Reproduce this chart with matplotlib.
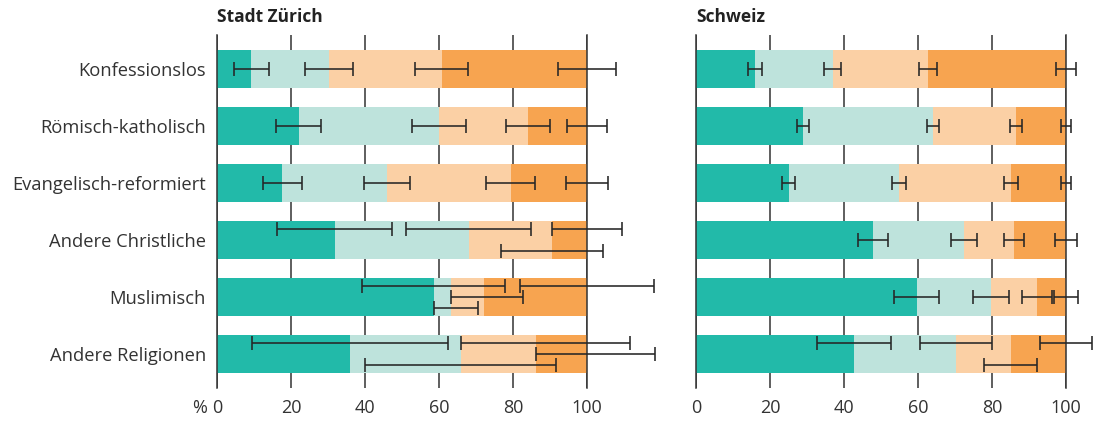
import numpy as np
import matplotlib
matplotlib.use("Agg")
import matplotlib.pyplot as plt
from matplotlib.transforms import blended_transform_factory

plt.rcParams['font.family'] = ['Open Sans', 'DejaVu Sans']

categories = ['Konfessionslos', 'Römisch-katholisch', 'Evangelisch-reformiert',
              'Andere Christliche', 'Muslimisch', 'Andere Religionen']

# shares (%) of the four answer groups, one row per category
zh_shares = [
    [9.3, 20.9, 30.5, 39.3],
    [22.1, 37.9, 24.0, 16.0],
    [17.7, 28.3, 33.4, 20.6],
    [31.8, 36.2, 22.5, 9.5],
    [58.6, 4.7, 9.0, 27.7],
    [36.0, 29.9, 20.2, 13.9],
]
ch_shares = [
    [15.9, 21.0, 25.7, 37.4],
    [28.8, 35.2, 22.4, 13.6],
    [25.0, 29.8, 30.2, 15.0],
    [47.7, 24.6, 13.6, 14.1],
    [59.6, 20.0, 12.5, 7.9],
    [42.6, 27.6, 14.8, 15.0],
]

# confidence interval half-widths (percentage points)
zh_err = [
    [4.75, 6.5, 7.25, 7.85],
    [6.1, 7.2, 6.0, 5.35],
    [5.35, 6.25, 6.65, 5.65],
    [15.45, 16.95, 13.75, 9.5],
    [19.3, 7.2, 10.3, 18.0],
    [26.45, 25.8, 25.5, 18.5],
]
ch_err = [
    [2.0, 2.35, 2.45, 2.7],
    [1.65, 1.75, 1.55, 1.3],
    [1.8, 2.0, 1.9, 1.4],
    [4.1, 3.55, 2.75, 2.95],
    [6.05, 4.85, 4.0, 3.25],
    [9.95, 9.75, 7.1, 7.05],
]

# vertical slot of each error bar inside its bar (-1 top, 0 middle, 1 bottom)
zh_slot = [
    [0, 0, 0, 0],
    [0, 0, 0, 0],
    [0, 0, 0, 0],
    [-1, -1, 1, -1],
    [-1, 1, 0, -1],
    [-1, 1, -1, 0],
]
ch_slot = [
    [0, 0, 0, 0],
    [0, 0, 0, 0],
    [0, 0, 0, 0],
    [0, 0, 0, 0],
    [0, 0, 0, 0],
    [-1, -1, 1, -1],
]

colors = ['#22BAA9', '#BEE3DC', '#FBD0A5', '#F7A450']
ticks = [0, 20, 40, 60, 80, 100]
text_col = '#333333'


def draw_panel(ax, title, shares, err, slot, show_labels):
    shares = np.array(shares)
    err = np.array(err)
    slot = np.array(slot)
    y = np.arange(len(categories))
    cum = np.cumsum(shares, axis=1)
    start = cum - shares

    for k in range(shares.shape[1]):
        ax.barh(y, shares[:, k], left=start[:, k], height=0.66,
                color=colors[k], linewidth=0, zorder=2)

    # lower whisker never goes past the start of its own segment
    for k in range(shares.shape[1]):
        lo = np.minimum(err[:, k], shares[:, k])
        ax.errorbar(cum[:, k], y + slot[:, k] * 0.19, xerr=[lo, err[:, k]],
                    fmt='none', ecolor='#262626', elinewidth=1.15,
                    capsize=5, capthick=1.15, zorder=4, clip_on=False)

    ax.set_xlim(0, 100)
    ax.set_ylim(len(categories) - 0.4, -0.6)
    ax.set_xticks(ticks)
    ax.set_xticklabels([str(t) for t in ticks])
    ax.grid(axis='x', color='#333333', linewidth=1.1)
    ax.set_axisbelow(True)
    for s in ['top', 'bottom']:
        ax.spines[s].set_visible(False)
    for s in ['left', 'right']:
        ax.spines[s].set_color('#333333')
        ax.spines[s].set_linewidth(1.1)
    ax.tick_params(axis='x', length=0, pad=8, labelsize=13, labelcolor=text_col)
    ax.tick_params(axis='y', length=0, pad=8, labelsize=13.2, labelcolor=text_col)
    ax.set_yticks(y)
    if show_labels:
        ax.set_yticklabels(categories)
    else:
        ax.set_yticklabels([])
    ax.set_title(title, loc='left', pad=9, fontsize=12.5, fontweight='bold',
                 color='#222222')


def main():
    fig = plt.figure(figsize=(11.02, 4.28), dpi=100)
    ax1 = fig.add_axes([0.1969, 0.0935, 0.3357, 0.8248])
    ax2 = fig.add_axes([0.6318, 0.0935, 0.3357, 0.8248])

    draw_panel(ax1, 'Stadt Zürich', zh_shares, zh_err, zh_slot, True)
    draw_panel(ax2, 'Schweiz', ch_shares, ch_err, ch_slot, False)

    trans = blended_transform_factory(ax1.transData, ax1.transAxes)
    ax1.annotate('%', xy=(0, 0), xycoords=trans, xytext=(-7.5, -8),
                 textcoords='offset points', ha='right', va='top',
                 fontsize=13, color=text_col)

    fig.savefig('out.png', dpi=100)


if __name__ == "__main__":
    main()
